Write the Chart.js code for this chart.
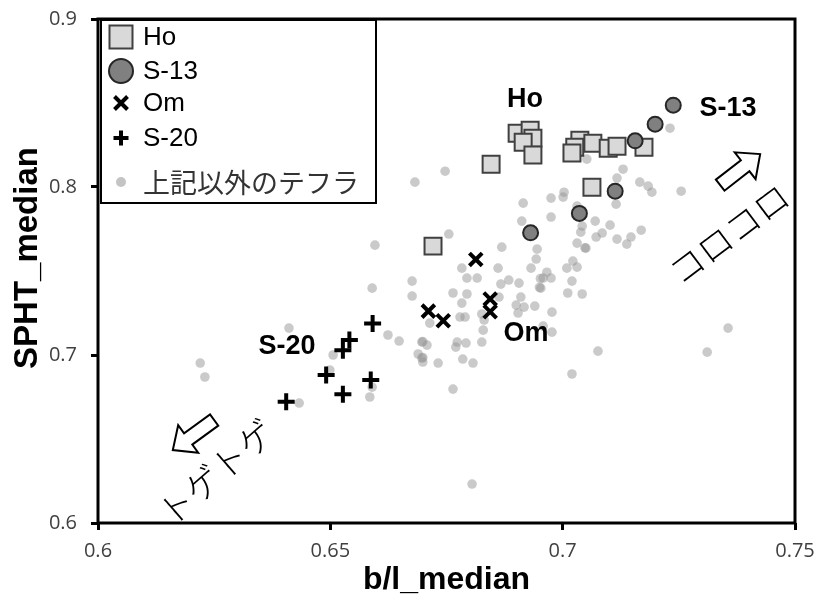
<!DOCTYPE html>
<html><head><meta charset="utf-8">
<script src="https://cdn.jsdelivr.net/npm/chart.js@4.4.1/dist/chart.umd.min.js"></script>
<style>html,body{margin:0;padding:0;background:#fff}#wrap{width:818px;height:601px}</style>
</head><body><div id="wrap"><canvas id="c" width="818" height="601"></canvas></div>
<script>
// ---- data ----
const seriesLabels = ['Ho', 'S-13', 'Om', 'S-20', '上記以外のテフラ'];
const hoX = [0.6902,0.6930,0.6936,0.6915,0.6936,0.6846,0.7037,0.7026,0.7020,0.7065,0.7098,0.7117,0.7175,0.7063,0.6721];
const hoY = [0.8320,0.8338,0.8290,0.8267,0.8190,0.8136,0.8279,0.8237,0.8202,0.8261,0.8231,0.8243,0.8237,0.7999,0.7648];
const s13X = [0.7238,0.7199,0.7156,0.7113,0.7036,0.6931];
const s13Y = [0.8487,0.8374,0.8275,0.7975,0.7843,0.7727];
const omX = [0.6813,0.6711,0.6743,0.6844,0.6844];
const omY = [0.7569,0.7261,0.7204,0.7333,0.7257];
const s20X = [0.6591,0.6541,0.6527,0.6491,0.6587,0.6527,0.6405];
const s20Y = [0.7188,0.7089,0.7029,0.6881,0.6851,0.6766,0.6722];
const otherX = [0.6596,0.6676,0.6590,0.6676,0.6411,0.6624,0.6648,0.6689,0.6220,0.6230,
0.6506,0.6499,0.6590,0.6585,0.6433,0.6747,0.6682,0.6915,0.6912,0.6755,
0.6869,0.6783,0.6861,0.7231,0.7052,0.7130,0.7117,0.7166,0.7184,0.7192,
0.7255,0.7115,0.7003,0.7001,0.6975,0.7031,0.6975,0.7070,0.7102,0.7042,
0.7169,0.7085,0.7039,0.7072,0.7117,0.7147,0.7138,0.7031,0.7050,0.6945,
0.6943,0.7022,0.7009,0.7031,0.6932,0.6966,0.6816,0.6794,0.6884,0.6906,
0.6867,0.6958,0.6975,0.6953,0.7020,0.7011,0.7042,0.6764,0.6794,0.6863,
0.6910,0.6783,0.6900,0.6917,0.6940,0.6977,0.6904,0.6779,0.6790,0.6826,
0.6831,0.6714,0.6829,0.6958,0.6977,0.6697,0.6708,0.6773,0.6792,0.6826,
0.6770,0.6697,0.6699,0.6732,0.6785,0.6807,0.7076,0.7020,0.6764,0.6805,
0.7356,0.7311,0.6952,0.6950,0.6699,0.6699,0.7048];
const otherY = [0.7654,0.7440,0.7398,0.7351,0.7160,0.7119,0.7083,0.7006,0.6952,0.6869,
0.7000,0.6910,0.6809,0.6750,0.6714,0.8094,0.8029,0.7904,0.7797,0.7720,
0.7642,0.7517,0.7517,0.8350,0.8166,0.8106,0.8053,0.8029,0.8005,0.7969,
0.7975,0.7898,0.7969,0.7940,0.7934,0.7886,0.7821,0.7797,0.7773,0.7767,
0.7743,0.7726,0.7731,0.7702,0.7690,0.7702,0.7660,0.7666,0.7636,0.7630,
0.7571,0.7559,0.7517,0.7523,0.7517,0.7493,0.7458,0.7458,0.7446,0.7428,
0.7422,0.7458,0.7458,0.7398,0.7440,0.7369,0.7363,0.7369,0.7363,0.7345,
0.7345,0.7309,0.7297,0.7285,0.7291,0.7255,0.7250,0.7226,0.7226,0.7244,
0.7208,0.7190,0.7148,0.7172,0.7136,0.7077,0.7059,0.7077,0.7071,0.7077,
0.7047,0.6982,0.6958,0.6952,0.6976,0.6952,0.7023,0.6887,0.6797,0.6232,
0.7160,0.7017,0.7455,0.7402,0.7080,0.6985,0.7638];
const xTickValues = [0.6, 0.65, 0.7, 0.75];
const yTickValues = [0.6, 0.7, 0.8, 0.9];
const xTitle = 'b/l_median';
const yTitle = 'SPHT_median';
const groupNames = ['Ho', 'S-13', 'Om', 'S-20'];
const shapeWords = ['コロコロ', 'トゲトゲ'];

// ---- layout / annotation config (positions in data units) ----
const groupLabelPos = [[0.6919,0.8519],[0.7356,0.8466],[0.6921,0.7129],[0.6407,0.7051]];
const shapeWordPos = [[0.7358,0.7720,-37],[0.6254,0.6303,-41]];
const arrowPos = [[0.7339,0.8011,0.7425,0.8196],[0.6250,0.6613,0.6161,0.6434]];

const zip = (xs, ys) => xs.map((x, i) => ({x, y: ys[i]}));

const styles = [
  {pointStyle:'rect', pointRadius:12, backgroundColor:'#d9d9d9', borderColor:'#404040', borderWidth:2},
  {pointStyle:'circle', pointRadius:7.5, backgroundColor:'#808080', borderColor:'#262626', borderWidth:2},
  {pointStyle:'crossRot', pointRadius:9, backgroundColor:'#000', borderColor:'#000', borderWidth:4},
  {pointStyle:'cross', pointRadius:8.5, backgroundColor:'#000', borderColor:'#000', borderWidth:4},
  {pointStyle:'circle', pointRadius:4.8, backgroundColor:'rgba(150,150,150,0.5)', borderColor:'rgba(0,0,0,0)', borderWidth:0}
];
const seriesData = [zip(hoX,hoY), zip(s13X,s13Y), zip(omX,omY), zip(s20X,s20Y), zip(otherX,otherY)];
const datasets = seriesData.map((d, i) => Object.assign({label: seriesLabels[i], data: d, order: i === 4 ? 10 : 4 - i, pointHoverRadius: styles[i].pointRadius}, styles[i]));

function drawSym(ctx, kind, x, y, s) {
  ctx.save();
  ctx.beginPath();
  if (kind === 'rect') {
    ctx.fillStyle = '#d9d9d9'; ctx.strokeStyle = '#404040'; ctx.lineWidth = 2;
    ctx.rect(x - s, y - s, 2*s, 2*s); ctx.fill(); ctx.stroke();
  } else if (kind === 'circle') {
    ctx.fillStyle = '#808080'; ctx.strokeStyle = '#262626'; ctx.lineWidth = 2;
    ctx.arc(x, y, s, 0, Math.PI*2); ctx.fill(); ctx.stroke();
  } else if (kind === 'crossRot') {
    ctx.strokeStyle = '#000'; ctx.lineWidth = 4;
    ctx.moveTo(x-s, y-s); ctx.lineTo(x+s, y+s); ctx.moveTo(x+s, y-s); ctx.lineTo(x-s, y+s); ctx.stroke();
  } else if (kind === 'cross') {
    ctx.strokeStyle = '#000'; ctx.lineWidth = 4;
    ctx.moveTo(x-s, y); ctx.lineTo(x+s, y); ctx.moveTo(x, y-s); ctx.lineTo(x, y+s); ctx.stroke();
  } else {
    ctx.fillStyle = '#c4c4c4';
    ctx.arc(x, y, s, 0, Math.PI*2); ctx.fill();
  }
  ctx.restore();
}

const decor = {
  id: 'decor',
  afterDatasetsDraw(chart) {
    const {ctx, chartArea: a, scales: {x, y}} = chart;
    ctx.save();
    // plot frame
    ctx.strokeStyle = '#000'; ctx.lineWidth = 3;
    ctx.strokeRect(a.left, a.top, a.right - a.left, a.bottom - a.top);

    // legend
    const lx = a.left + 2, ly = a.top, lw = 277, lh = 185;
    ctx.fillStyle = '#fff'; ctx.fillRect(lx, ly, lw, lh);
    ctx.strokeStyle = '#000'; ctx.lineWidth = 2; ctx.strokeRect(lx + 1, ly + 1, lw - 2, lh - 2);
    const rows = [18, 52, 84, 119, 163];
    const kinds = ['rect', 'circle', 'crossRot', 'cross', 'dot'];
    const sizes = [11.5, 12, 6.5, 7.5, 5];
    chart.data.datasets.forEach((ds, i) => {
      const cy = ly + rows[i];
      drawSym(ctx, kinds[i], a.left + 23, cy, sizes[i]);
      ctx.textBaseline = 'middle'; ctx.textAlign = 'left';
      if (i === 4) { ctx.font = '27px "Noto Sans CJK JP"'; ctx.fillStyle = '#333'; }
      else { ctx.font = '26px "Liberation Sans"'; ctx.fillStyle = '#000'; }
      ctx.fillText(ds.label, a.left + 45, cy + 1);
    });

    // group labels
    ctx.font = 'bold 27px "Liberation Sans"'; ctx.fillStyle = '#000';
    ctx.textAlign = 'center'; ctx.textBaseline = 'middle';
    groupNames.forEach((t, i) => {
      ctx.fillText(t, x.getPixelForValue(groupLabelPos[i][0]), y.getPixelForValue(groupLabelPos[i][1]));
    });

    // rotated words
    ctx.font = '300 35px "Noto Sans CJK JP"';
    shapeWords.forEach((t, i) => {
      const p = shapeWordPos[i];
      ctx.save();
      ctx.translate(x.getPixelForValue(p[0]), y.getPixelForValue(p[1]));
      ctx.rotate(p[2] * Math.PI / 180);
      ctx.fillText(t, 0, 0);
      ctx.restore();
    });

    // hollow arrows
    arrowPos.forEach(p => {
      const tx = x.getPixelForValue(p[0]), ty = y.getPixelForValue(p[1]);
      const hx = x.getPixelForValue(p[2]), hy = y.getPixelForValue(p[3]);
      const L = Math.hypot(hx - tx, hy - ty), ang = Math.atan2(hy - ty, hx - tx);
      const sw = 7, hw = 17, hl = 19;
      ctx.save();
      ctx.translate(tx, ty); ctx.rotate(ang);
      ctx.beginPath();
      ctx.moveTo(0, -sw); ctx.lineTo(L - hl, -sw); ctx.lineTo(L - hl, -hw); ctx.lineTo(L, 0);
      ctx.lineTo(L - hl, hw); ctx.lineTo(L - hl, sw); ctx.lineTo(0, sw); ctx.closePath();
      ctx.fillStyle = '#fff'; ctx.fill();
      ctx.strokeStyle = '#000'; ctx.lineWidth = 2; ctx.lineJoin = 'miter'; ctx.stroke();
      ctx.restore();
    });

    // axis titles
    ctx.fillStyle = '#000'; ctx.font = 'bold 32px "Liberation Sans"';
    ctx.textAlign = 'center'; ctx.textBaseline = 'middle';
    ctx.fillText(xTitle, (a.left + a.right) / 2, 580);
    ctx.save(); ctx.translate(28, 258); ctx.rotate(-Math.PI / 2);
    ctx.font = 'bold 33px "Liberation Sans"';
    ctx.fillText(yTitle, 0, 0); ctx.restore();
    ctx.restore();
  }
};

const tickFont = {family: '"Open Sans"', size: 20};
new Chart(document.getElementById('c'), {
  type: 'scatter',
  data: {datasets},
  options: {
    responsive: false, animation: false, devicePixelRatio: 1,
    layout: {padding: {top: 19, right: 23, left: 0, bottom: 0}},
    plugins: {legend: {display: false}, tooltip: {enabled: false}},
    scales: {
      x: {
        type: 'linear', min: 0.6, max: 0.75,
        afterBuildTicks: s => { s.ticks = xTickValues.map(v => ({value: v})); },
        afterFit: s => { s.height = 78; s.paddingLeft = 0; s.paddingRight = 0; },
        ticks: {callback: v => String(+Number(v).toFixed(2)), font: tickFont, color: '#404040', padding: 9, maxRotation: 0, autoSkip: false},
        grid: {drawOnChartArea: false, drawTicks: true, tickLength: 7, color: '#000', lineWidth: 3},
        border: {display: false}
      },
      y: {
        type: 'linear', min: 0.6, max: 0.9,
        afterBuildTicks: s => { s.ticks = yTickValues.map(v => ({value: v})); },
        afterFit: s => { s.width = 98; s.paddingTop = 0; s.paddingBottom = 0; },
        ticks: {callback: v => String(+Number(v).toFixed(2)), font: tickFont, color: '#404040', padding: 14, autoSkip: false},
        grid: {drawOnChartArea: false, drawTicks: true, tickLength: 7, color: '#000', lineWidth: 3},
        border: {display: false}
      }
    }
  },
  plugins: [decor]
});
</script></body></html>
